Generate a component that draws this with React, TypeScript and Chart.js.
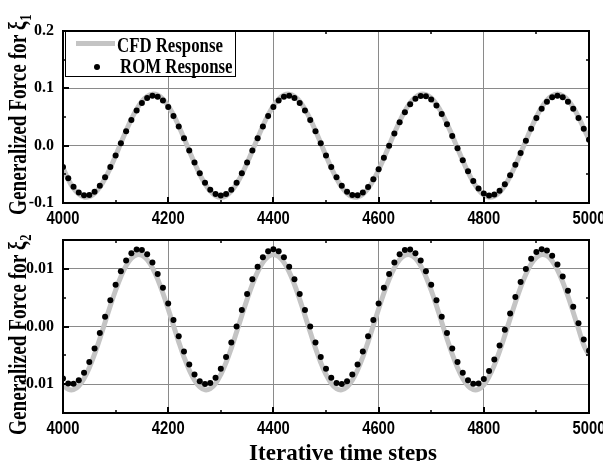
import React, { useEffect, useRef } from "react";
import { Chart, registerables } from "chart.js";

Chart.register(...registerables);

const SERIF = '"Liberation Serif", "Times New Roman", serif';
const SANS = '"Liberation Sans", Arial, sans-serif';

const steps = [
  4000, 4010, 4020, 4030, 4040, 4050, 4060, 4070, 4080, 4090,
  4100, 4110, 4120, 4130, 4140, 4150, 4160, 4170, 4180, 4190,
  4200, 4210, 4220, 4230, 4240, 4250, 4260, 4270, 4280, 4290,
  4300, 4310, 4320, 4330, 4340, 4350, 4360, 4370, 4380, 4390,
  4400, 4410, 4420, 4430, 4440, 4450, 4460, 4470, 4480, 4490,
  4500, 4510, 4520, 4530, 4540, 4550, 4560, 4570, 4580, 4590,
  4600, 4610, 4620, 4630, 4640, 4650, 4660, 4670, 4680, 4690,
  4700, 4710, 4720, 4730, 4740, 4750, 4760, 4770, 4780, 4790,
  4800, 4810, 4820, 4830, 4840, 4850, 4860, 4870, 4880, 4890,
  4900, 4910, 4920, 4930, 4940, 4950, 4960, 4970, 4980, 4990,
  5000,
];

const xMajorTicks = [4000, 4200, 4400, 4600, 4800, 5000];
const xMinorTicks = [4100, 4300, 4500, 4700, 4900];

const topYTicks = [-0.1, 0.0, 0.1, 0.2];
const topYMinor = [-0.05, 0.05, 0.15];
const bottomYTicks = [-0.01, 0.0, 0.01];
const bottomYMinor = [-0.015, -0.005, 0.005, 0.015];

const legendLabels = ["CFD Response", "ROM Response"];

// Generalized force for xi_1
const cfdXi1 = [
  -0.0385, -0.0590, -0.0742, -0.0845, -0.0896, -0.0890, -0.0832, -0.0723, -0.0571, -0.0385,
  -0.0176, 0.0044, 0.0261, 0.0463, 0.0636, 0.0772, 0.0861, 0.0899, 0.0883, 0.0814,
  0.0696, 0.0536, 0.0344, 0.0132, -0.0088, -0.0303, -0.0500, -0.0667, -0.0794, -0.0873,
  -0.0900, -0.0873, -0.0794, -0.0667, -0.0500, -0.0303, -0.0088, 0.0132, 0.0344, 0.0536,
  0.0696, 0.0814, 0.0883, 0.0899, 0.0861, 0.0772, 0.0636, 0.0463, 0.0261, 0.0044,
  -0.0176, -0.0385, -0.0571, -0.0723, -0.0832, -0.0890, -0.0896, -0.0847, -0.0748, -0.0604,
  -0.0424, -0.0219, 0.0000, 0.0219, 0.0424, 0.0604, 0.0748, 0.0847, 0.0896, 0.0890,
  0.0832, 0.0723, 0.0571, 0.0385, 0.0176, -0.0044, -0.0261, -0.0463, -0.0636, -0.0772,
  -0.0861, -0.0899, -0.0883, -0.0814, -0.0696, -0.0536, -0.0344, -0.0132, 0.0088, 0.0303,
  0.0500, 0.0667, 0.0794, 0.0873, 0.0900, 0.0873, 0.0794, 0.0667, 0.0500, 0.0303,
  0.0110,
];

const romXi1 = [
  -0.0372, -0.0570, -0.0717, -0.0817, -0.0866, -0.0861, -0.0804, -0.0699, -0.0552, -0.0372,
  -0.0170, 0.0043, 0.0253, 0.0447, 0.0615, 0.0746, 0.0833, 0.0869, 0.0853, 0.0786,
  0.0673, 0.0518, 0.0333, 0.0128, -0.0085, -0.0293, -0.0483, -0.0645, -0.0767, -0.0844,
  -0.0870, -0.0844, -0.0767, -0.0645, -0.0483, -0.0293, -0.0085, 0.0128, 0.0333, 0.0518,
  0.0673, 0.0786, 0.0853, 0.0869, 0.0833, 0.0746, 0.0615, 0.0447, 0.0253, 0.0043,
  -0.0170, -0.0372, -0.0552, -0.0699, -0.0804, -0.0861, -0.0866, -0.0819, -0.0723, -0.0584,
  -0.0410, -0.0211, 0.0000, 0.0211, 0.0410, 0.0584, 0.0723, 0.0819, 0.0866, 0.0861,
  0.0804, 0.0699, 0.0552, 0.0372, 0.0170, -0.0043, -0.0253, -0.0447, -0.0615, -0.0746,
  -0.0833, -0.0869, -0.0853, -0.0786, -0.0673, -0.0518, -0.0333, -0.0128, 0.0085, 0.0293,
  0.0483, 0.0645, 0.0767, 0.0844, 0.0870, 0.0844, 0.0767, 0.0645, 0.0483, 0.0293,
  0.0105,
];

// Generalized force for xi_2
const cfdXi2 = [
  -0.01011, -0.01087, -0.01094, -0.01031, -0.00902, -0.00714, -0.00479, -0.00211, 0.00075, 0.00361,
  0.00629, 0.00864, 0.01052, 0.01181, 0.01244, 0.01237, 0.01161, 0.01019, 0.00820, 0.00577,
  0.00304, 0.00017, -0.00266, -0.00529, -0.00756, -0.00933, -0.01049, -0.01099, -0.01077, -0.00987,
  -0.00833, -0.00625, -0.00375, -0.00097, 0.00190, 0.00471, 0.00728, 0.00946, 0.01111, 0.01215,
  0.01250, 0.01215, 0.01111, 0.00946, 0.00728, 0.00471, 0.00190, -0.00097, -0.00375, -0.00625,
  -0.00833, -0.00987, -0.01077, -0.01099, -0.01049, -0.00933, -0.00756, -0.00529, -0.00266, 0.00017,
  0.00304, 0.00577, 0.00820, 0.01019, 0.01161, 0.01237, 0.01244, 0.01181, 0.01052, 0.00864,
  0.00629, 0.00361, 0.00075, -0.00211, -0.00479, -0.00714, -0.00902, -0.01031, -0.01094, -0.01087,
  -0.01011, -0.00869, -0.00670, -0.00427, -0.00154, 0.00133, 0.00416, 0.00679, 0.00906, 0.01083,
  0.01199, 0.01249, 0.01227, 0.01137, 0.00983, 0.00775, 0.00525, 0.00247, -0.00040, -0.00321,
  -0.00500,
];

const romXi2 = [
  -0.00900, -0.00987, -0.00994, -0.00932, -0.00803, -0.00616, -0.00382, -0.00114, 0.00170, 0.00454,
  0.00722, 0.00956, 0.01143, 0.01272, 0.01334, 0.01327, 0.01251, 0.01110, 0.00912, 0.00670,
  0.00398, 0.00113, -0.00170, -0.00432, -0.00657, -0.00834, -0.00950, -0.00999, -0.00978, -0.00888,
  -0.00734, -0.00527, -0.00278, -0.00002, 0.00285, 0.00564, 0.00820, 0.01037, 0.01202, 0.01305,
  0.01340, 0.01305, 0.01202, 0.01037, 0.00820, 0.00564, 0.00285, -0.00002, -0.00278, -0.00527,
  -0.00734, -0.00888, -0.00978, -0.00999, -0.00950, -0.00834, -0.00657, -0.00432, -0.00170, 0.00113,
  0.00398, 0.00670, 0.00912, 0.01110, 0.01251, 0.01327, 0.01334, 0.01272, 0.01143, 0.00956,
  0.00722, 0.00454, 0.00170, -0.00114, -0.00382, -0.00616, -0.00803, -0.00932, -0.00994, -0.00987,
  -0.00911, -0.00770, -0.00572, -0.00330, -0.00058, 0.00227, 0.00510, 0.00772, 0.00997, 0.01174,
  0.01290, 0.01339, 0.01318, 0.01228, 0.01074, 0.00867, 0.00618, 0.00342, 0.00055, -0.00224,
  -0.00420,
];

const CFD_COLOR = "#c4c4c4";
const ROM_COLOR = "#000000";
const GRID_COLOR = "#8a8a8a";

type PanelCfg = {
  cfd: number[];
  rom: number[];
  yMin: number;
  yMax: number;
  yTicks: number[];
  yMinor: number[];
  digits: number;
  padTop: number;
  xHeight: number;
  titleSub: string;
  titleStartY: number;
  legend: boolean;
  xTitle: string | null;
};

function makePlugin(cfg: PanelCfg) {
  return {
    id: "decor",
    afterDraw(chart: any) {
      const ctx: CanvasRenderingContext2D = chart.ctx;
      const { left, right, top, bottom } = chart.chartArea;
      const xs = chart.scales.x;
      const ys = chart.scales.y;
      ctx.save();
      ctx.strokeStyle = "#000";
      // major ticks (inside)
      ctx.lineWidth = 2;
      ctx.beginPath();
      for (const v of xMajorTicks) {
        const px = Math.round(xs.getPixelForValue(v));
        ctx.moveTo(px, bottom);
        ctx.lineTo(px, bottom - 6);
      }
      for (const v of cfg.yTicks) {
        const py = Math.round(ys.getPixelForValue(v));
        ctx.moveTo(left, py);
        ctx.lineTo(left + 6, py);
      }
      ctx.stroke();
      // minor ticks on all sides
      ctx.lineWidth = 1.5;
      ctx.beginPath();
      for (const v of xMinorTicks) {
        const px = Math.round(xs.getPixelForValue(v));
        ctx.moveTo(px, bottom);
        ctx.lineTo(px, bottom - 3);
        ctx.moveTo(px, top);
        ctx.lineTo(px, top + 3);
      }
      for (const v of cfg.yMinor) {
        const py = Math.round(ys.getPixelForValue(v));
        ctx.moveTo(left, py);
        ctx.lineTo(left + 3, py);
        ctx.moveTo(right, py);
        ctx.lineTo(right - 3, py);
      }
      ctx.stroke();
      // frame
      ctx.lineWidth = 2;
      ctx.strokeRect(left, top, right - left, bottom - top);

      // x tick labels (narrow bold sans)
      ctx.fillStyle = "#000";
      ctx.font = `bold 18px ${SANS}`;
      ctx.textAlign = "center";
      ctx.textBaseline = "alphabetic";
      for (const t of xs.ticks) {
        const px = xs.getPixelForValue(t.value);
        ctx.save();
        ctx.translate(px, bottom + 21);
        ctx.scale(0.82, 1);
        ctx.fillText(String(t.value), 0, 0);
        ctx.restore();
      }

      // y title (rotated)
      ctx.save();
      ctx.translate(26, cfg.titleStartY);
      ctx.rotate(-Math.PI / 2);
      ctx.scale(0.74, 1);
      ctx.font = `bold 26px ${SERIF}`;
      ctx.textAlign = "left";
      ctx.textBaseline = "alphabetic";
      const main = "Generalized Force for \u03BE";
      ctx.fillText(main, 0, 0);
      const w = ctx.measureText(main).width;
      ctx.font = `bold 17px ${SERIF}`;
      ctx.fillText(cfg.titleSub, w + 1, 5);
      ctx.restore();

      // legend
      if (cfg.legend) {
        const ds = chart.data.datasets;
        const bx = 65, by = 31, bw = 170, bh = 45;
        ctx.fillStyle = "#fff";
        ctx.fillRect(bx, by, bw, bh);
        ctx.lineWidth = 1;
        ctx.strokeStyle = "#000";
        ctx.strokeRect(bx + 0.5, by + 0.5, bw, bh);
        // CFD sample
        ctx.strokeStyle = ds[1].borderColor;
        ctx.lineWidth = ds[1].borderWidth;
        ctx.beginPath();
        ctx.moveTo(76, 43.5);
        ctx.lineTo(115, 43.5);
        ctx.stroke();
        // ROM sample
        ctx.fillStyle = ds[0].pointBackgroundColor;
        ctx.beginPath();
        ctx.arc(97, 67, ds[0].pointRadius, 0, Math.PI * 2);
        ctx.fill();
        ctx.fillStyle = "#000";
        ctx.font = `bold 21px ${SERIF}`;
        ctx.textAlign = "left";
        ctx.textBaseline = "alphabetic";
        ctx.save();
        ctx.translate(117, 52);
        ctx.scale(0.8, 1);
        ctx.fillText(legendLabels[0], 0, 0);
        ctx.restore();
        ctx.save();
        ctx.translate(120, 73);
        ctx.scale(0.8, 1);
        ctx.fillText(legendLabels[1], 0, 0);
        ctx.restore();
      }

      if (cfg.xTitle) {
        ctx.fillStyle = "#000";
        ctx.font = `bold 23px ${SERIF}`;
        ctx.textAlign = "center";
        ctx.textBaseline = "alphabetic";
        ctx.fillText(cfg.xTitle, 343, 230);
      }
      ctx.restore();
    },
  };
}

function makeConfig(cfg: PanelCfg): any {
  return {
    type: "line",
    data: {
      datasets: [
        {
          label: legendLabels[1],
          data: steps.map((x, i) => ({ x, y: cfg.rom[i] })),
          showLine: false,
          pointRadius: 3,
          pointBackgroundColor: ROM_COLOR,
          pointBorderWidth: 0,
          borderColor: ROM_COLOR,
          order: 0,
        },
        {
          label: legendLabels[0],
          data: steps.map((x, i) => ({ x, y: cfg.cfd[i] })),
          borderColor: CFD_COLOR,
          borderWidth: 5,
          pointRadius: 0,
          tension: 0.4,
          fill: false,
          order: 1,
        },
      ],
    },
    options: {
      animation: false,
      responsive: false,
      devicePixelRatio: 1,
      layout: { padding: { top: cfg.padTop, right: 14, left: 0, bottom: 0 } },
      plugins: { legend: { display: false }, tooltip: { enabled: false } },
      scales: {
        x: {
          type: "linear",
          min: 4000,
          max: 5000,
          afterBuildTicks: (s: any) => {
            s.ticks = xMajorTicks.map((v) => ({ value: v }));
          },
          afterFit: (s: any) => {
            s.height = cfg.xHeight;
            s.paddingLeft = 0;
            s.paddingRight = 0;
          },
          ticks: { display: false },
          grid: { color: GRID_COLOR, lineWidth: 1, drawTicks: false },
          border: { display: false },
        },
        y: {
          type: "linear",
          min: cfg.yMin,
          max: cfg.yMax,
          afterBuildTicks: (s: any) => {
            s.ticks = cfg.yTicks.map((v) => ({ value: v }));
          },
          afterFit: (s: any) => {
            s.width = 63;
            s.paddingTop = 0;
            s.paddingBottom = 0;
          },
          ticks: {
            color: "#000",
            font: { family: SERIF, size: 16, weight: "bold" },
            padding: 9,
            callback: (v: any) => Number(v).toFixed(cfg.digits),
          },
          grid: { color: GRID_COLOR, lineWidth: 1, drawTicks: false },
          border: { display: false },
        },
      },
    },
    plugins: [makePlugin(cfg)],
  };
}

const topCfg: PanelCfg = {
  cfd: cfdXi1,
  rom: romXi1,
  yMin: -0.1,
  yMax: 0.2,
  yTicks: topYTicks,
  yMinor: topYMinor,
  digits: 1,
  padTop: 31,
  xHeight: 27,
  titleSub: "1",
  titleStartY: 215,
  legend: true,
  xTitle: null,
};

const bottomCfg: PanelCfg = {
  cfd: cfdXi2,
  rom: romXi2,
  yMin: -0.015,
  yMax: 0.015,
  yTicks: bottomYTicks,
  yMinor: bottomYMinor,
  digits: 2,
  padTop: 10,
  xHeight: 48,
  titleSub: "2",
  titleStartY: 205,
  legend: false,
  xTitle: "Iterative time steps",
};

export default function App() {
  const topRef = useRef<HTMLCanvasElement | null>(null);
  const botRef = useRef<HTMLCanvasElement | null>(null);

  useEffect(() => {
    const c1 = new Chart(topRef.current as HTMLCanvasElement, makeConfig(topCfg));
    const c2 = new Chart(botRef.current as HTMLCanvasElement, makeConfig(bottomCfg));
    return () => {
      c1.destroy();
      c2.destroy();
    };
  }, []);

  return (
    <div
      style={{
        position: "absolute",
        left: 0,
        top: 0,
        width: 603,
        height: 461,
        background: "#fff",
        overflow: "hidden",
      }}
    >
      <canvas
        ref={topRef}
        width={603}
        height={230}
        style={{ position: "absolute", left: 0, top: 0, width: 603, height: 230 }}
      />
      <canvas
        ref={botRef}
        width={603}
        height={231}
        style={{ position: "absolute", left: 0, top: 230, width: 603, height: 231 }}
      />
    </div>
  );
}
